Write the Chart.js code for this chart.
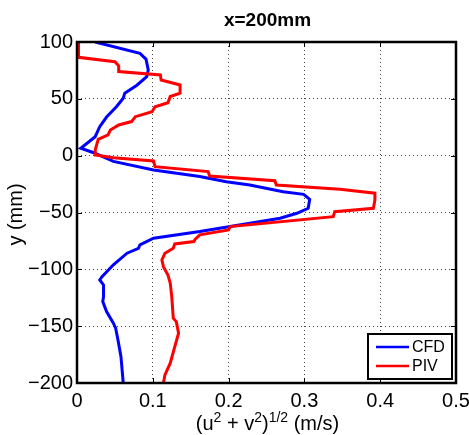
<!DOCTYPE html>
<html lang="en">
<head>
  <meta charset="UTF-8">
  <title>x=200mm</title>
  <script src="https://cdn.jsdelivr.net/npm/chart.js"></script>
  <style>
    body { margin: 0; background: #fff; }
  </style>
</head>
<body>
  <canvas id="myChart" width="469" height="435"></canvas>
  <script>
    // velocity magnitude profiles across y at x=200mm
    const cfdY = [100, 90, 85, 75.4, 69.5, 62, 55, 50.5, 43, 34, 25.5, 16.7, 6.5, 2.6, -5, -12.6, -18.4, -23, -25.8,
      -31.7, -34, -38.4, -46.3, -50.7, -55, -59.5, -66.8, -72.6, -78.5, -81.5, -85.8, -96, -106.4, -109.3, -113.7,
      -124, -128.4, -137.2, -147.4, -151.8, -162, -176.8, -200];
    const cfdU = [0.024, 0.083, 0.091, 0.094, 0.092, 0.079, 0.063, 0.061, 0.052, 0.039, 0.030, 0.024, 0.005, 0.022,
      0.048, 0.101, 0.162, 0.197, 0.228, 0.272, 0.299, 0.307, 0.305, 0.290, 0.268, 0.228, 0.162, 0.101, 0.083, 0.081,
      0.066, 0.048, 0.033, 0.030, 0.035, 0.035, 0.034, 0.039, 0.048, 0.051, 0.054, 0.058, 0.061];

    const pivY = [100, 86.5, 82.7, 79, 74, 71, 66.6, 62.2, 55, 52, 46.6, 43, 38.7, 34.3, 30, 27, 22.6, 18.2, 14.4, 5,
      0.6, -1.8, -4.7, -9.7, -14, -17.9, -22, -25.8, -29.6, -33, -39, -46.3, -49.3, -53.7, -62.4, -65.3, -69.7, -73.5,
      -75.6, -77.7, -81.5, -85.8, -91.7, -97.6, -105, -112.2, -124, -143, -146, -156.2, -168, -182.6, -192.9, -200];
    const pivU = [0.002, 0.002, 0.050, 0.055, 0.055, 0.110, 0.111, 0.136, 0.136, 0.123, 0.120, 0.103, 0.099, 0.077,
      0.072, 0.055, 0.044, 0.041, 0.028, 0.024, 0.024, 0.048, 0.101, 0.103, 0.173, 0.175, 0.261, 0.263, 0.347, 0.393,
      0.393, 0.391, 0.340, 0.338, 0.202, 0.200, 0.162, 0.156, 0.154, 0.129, 0.127, 0.116, 0.112, 0.114, 0.120, 0.123,
      0.125, 0.127, 0.131, 0.134, 0.129, 0.123, 0.116, 0.114];

    const xTicks = [0, 0.1, 0.2, 0.3, 0.4, 0.5];
    const yTicks = [-200, -150, -100, -50, 0, 50, 100];
    const seriesNames = ['CFD', 'PIV'];
    const seriesColors = ['#0000ff', '#ff0000'];

    const FONT = '"Liberation Sans", Arial, sans-serif';

    function toPoints(us, ys) {
      return us.map((u, i) => ({ x: u, y: ys[i] }));
    }

    // frame, inward ticks, titles and legend, matlab style
    const decor = {
      id: 'decor',
      afterDraw(chart) {
        const ctx = chart.ctx;
        const a = chart.chartArea;
        const xs = chart.scales.x, ys = chart.scales.y;
        ctx.save();

        ctx.strokeStyle = '#000';
        ctx.lineWidth = 1;
        xTicks.forEach(v => {
          const px = Math.round(xs.getPixelForValue(v)) + 0.5;
          ctx.beginPath();
          ctx.moveTo(px, a.bottom); ctx.lineTo(px, a.bottom - 5);
          ctx.moveTo(px, a.top); ctx.lineTo(px, a.top + 5);
          ctx.stroke();
        });
        yTicks.forEach(v => {
          const py = Math.round(ys.getPixelForValue(v)) + 0.5;
          ctx.beginPath();
          ctx.moveTo(a.left, py); ctx.lineTo(a.left + 5, py);
          ctx.moveTo(a.right, py); ctx.lineTo(a.right - 5, py);
          ctx.stroke();
        });

        ctx.lineWidth = 2.5;
        ctx.strokeRect(a.left, a.top, a.right - a.left, a.bottom - a.top);

        // title
        ctx.fillStyle = '#000';
        ctx.textAlign = 'center';
        ctx.textBaseline = 'alphabetic';
        ctx.font = 'bold 19px ' + FONT;
        const cx = (a.left + a.right) / 2 + 1;
        ctx.fillText('x=200mm', cx, 26);

        // y title
        ctx.font = '20px ' + FONT;
        ctx.save();
        ctx.translate(22, (a.top + a.bottom) / 2 + 2);
        ctx.rotate(-Math.PI / 2);
        ctx.fillText('y (mm)', 0, 0);
        ctx.restore();

        // x title with superscripts
        const parts = [['(u', 0], ['2', 1], [' + v', 0], ['2', 1], [')', 0], ['1/2', 1], [' (m/s)', 0]];
        const base = '20px ' + FONT, sup = '14px ' + FONT;
        let total = 0;
        parts.forEach(p => { ctx.font = p[1] ? sup : base; total += ctx.measureText(p[0]).width; });
        let x = cx - total / 2;
        const ty = 430;
        ctx.textAlign = 'left';
        parts.forEach(p => {
          ctx.font = p[1] ? sup : base;
          ctx.fillText(p[0], x, p[1] ? ty - 8 : ty);
          x += ctx.measureText(p[0]).width;
        });

        // legend
        const lx = 368, ly = 334, lw = 84, lh = 45;
        ctx.fillStyle = '#fff';
        ctx.fillRect(lx, ly, lw, lh);
        ctx.lineWidth = 2;
        ctx.strokeStyle = '#000';
        ctx.strokeRect(lx, ly, lw, lh);
        ctx.font = '16px ' + FONT;
        ctx.textBaseline = 'middle';
        chart.data.datasets.forEach((ds, i) => {
          const yy = ly + 13 + i * 19;
          ctx.strokeStyle = ds.borderColor;
          ctx.lineWidth = 2.5;
          ctx.beginPath();
          ctx.moveTo(lx + 8, yy); ctx.lineTo(lx + 41, yy);
          ctx.stroke();
          ctx.fillStyle = '#000';
          ctx.fillText(ds.label, lx + 44, yy + 1);
        });

        ctx.restore();
      }
    };

    const ctx = document.getElementById('myChart').getContext('2d');
    const myChart = new Chart(ctx, {
      type: 'scatter',
      data: {
        datasets: [
          {
            label: seriesNames[0],
            data: toPoints(cfdU, cfdY),
            borderColor: seriesColors[0],
            backgroundColor: seriesColors[0],
            showLine: true,
            borderWidth: 3,
            pointRadius: 0,
            tension: 0,
            order: 1
          },
          {
            label: seriesNames[1],
            data: toPoints(pivU, pivY),
            borderColor: seriesColors[1],
            backgroundColor: seriesColors[1],
            showLine: true,
            borderWidth: 3,
            pointRadius: 0,
            tension: 0,
            order: 0
          }
        ]
      },
      options: {
        responsive: false,
        animation: false,
        layout: { padding: { top: 42, right: 13, left: 0, bottom: 0 } },
        plugins: {
          legend: { display: false },
          tooltip: { enabled: false }
        },
        scales: {
          x: {
            type: 'linear',
            min: 0,
            max: 0.5,
            afterFit: s => { s.height = 52; s.paddingLeft = 0; s.paddingRight = 0; },
            afterBuildTicks: s => { s.ticks = xTicks.map(v => ({ value: v })); },
            ticks: { color: '#000', font: { size: 20, family: FONT }, padding: 6, maxRotation: 0 },
            grid: { color: '#444', lineWidth: 1, drawTicks: false },
            border: { display: false, dash: [1, 3] }
          },
          y: {
            type: 'linear',
            min: -200,
            max: 100,
            afterFit: s => { s.width = 77; s.paddingTop = 0; s.paddingBottom = 0; },
            afterBuildTicks: s => { s.ticks = yTicks.map(v => ({ value: v })); },
            ticks: {
              color: '#000',
              font: { size: 20, family: FONT },
              padding: 4,
              callback: v => String(v).replace('-', '\u2212')
            },
            grid: { color: '#444', lineWidth: 1, drawTicks: false },
            border: { display: false, dash: [1, 3] }
          }
        }
      },
      plugins: [decor]
    });
  </script>
</body>
</html>
